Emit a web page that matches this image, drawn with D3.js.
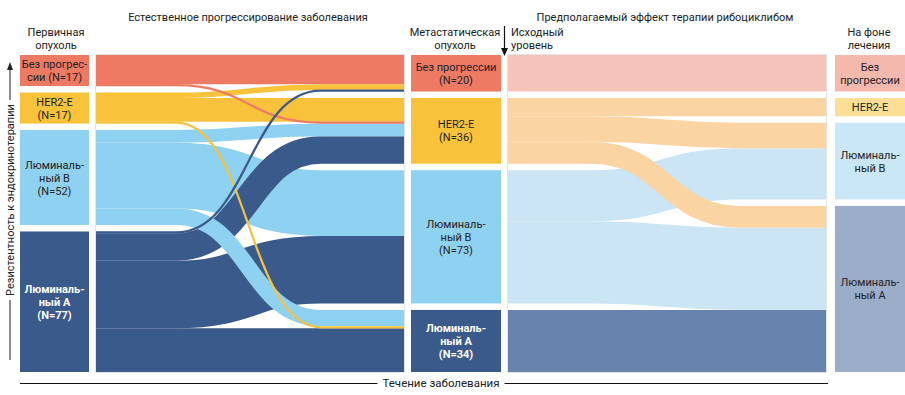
<!DOCTYPE html>
<html>
<head>
<meta charset="utf-8">
<script src="https://cdn.jsdelivr.net/npm/d3@7"></script>
<style>
  body { margin: 0; background: #fff; }
  text { font-family: Roboto, "Noto Sans", sans-serif; fill: #222; }
</style>
</head>
<body>
<script>
// подтипы опухоли
var subtypes = ["Без прогрессии", "HER2-E", "Люминальный В", "Люминальный А"];
var primaryN = [17, 17, 52, 77];
var metastaticN = [20, 36, 73, 34];
var treatedN = [20, 10, 42, 91];

// естественное прогрессирование: [из, в, N]
var naturalFlows = [
  [0, 0, 16], [0, 1, 1],
  [1, 0, 3], [1, 1, 13], [1, 3, 1],
  [2, 1, 7], [2, 2, 36], [2, 3, 9],
  [3, 0, 1], [3, 1, 15], [3, 2, 37], [3, 3, 24]
];
// порядок прихода потоков в целевой узел (индексы naturalFlows)
var naturalArrival = [0, 2, 8, 3, 1, 5, 9, 6, 10, 7, 4, 11];

// эффект рибоциклиба: [из, в, N]
var therapyFlows = [
  [0, 0, 20],
  [1, 1, 10], [1, 2, 14], [1, 3, 12],
  [2, 2, 28], [2, 3, 45],
  [3, 3, 34]
];
var therapyArrival = [0, 1, 2, 4, 3, 5, 6];

var primaryLabels = [["Без прогрес-", "сии (N=17)"], ["HER2-E", "(N=17)"], ["Люминаль-", "ный В", "(N=52)"], ["Люминаль-", "ный А", "(N=77)"]];
var metastaticLabels = [["Без прогрессии", "(N=20)"], ["HER2-E", "(N=36)"], ["Люминаль-", "ный В", "(N=73)"], ["Люминаль-", "ный А", "(N=34)"]];
var treatedLabels = [["Без", "прогрессии"], ["HER2-E"], ["Люминаль-", "ный В"], ["Люминаль-", "ный А"]];

var colors = ["#ee7a63", "#f8c23b", "#8fd1f1", "#3a5a8c"];
var fadedColors = ["#f6c3bb", "#fbd4a3", "#cbe5f5", "#6783ae"];
var treatedColors = ["#f5b8ad", "#fcdf94", "#c9e7f7", "#9badc8"];

var width = 905, height = 395;
var yTop = 55, yBottom = 372, gap = 6.5;

var svg = d3.select("body").append("svg")
    .attr("width", width)
    .attr("height", height);

var h = d3.scaleLinear()
    .domain([0, d3.sum(primaryN)])
    .range([0, (yBottom - yTop) - 3 * gap]);

function stack(ns) {
  var y = yTop;
  return ns.map(function(n) {
    var o = {y0: y, y1: y + h(n)};
    y = o.y1 + gap;
    return o;
  });
}

var primaryNodes = stack(primaryN),
    metastaticNodes = stack(metastaticN),
    treatedNodes = stack(treatedN);

function ribbon(x0, x1, ys, yt) {
  var cs = x0 + 0.26 * (x1 - x0), ce = x0 + 0.73 * (x1 - x0), cm = (cs + ce) / 2;
  var p = d3.path();
  p.moveTo(x0, ys);
  p.lineTo(cs, ys);
  p.bezierCurveTo(cm, ys, cm, yt, ce, yt);
  p.lineTo(x1, yt);
  return p.toString();
}

function drawFlows(flows, arrival, srcNodes, tgtNodes, x0, x1, palette) {
  var srcOff = srcNodes.map(function(d) { return d.y0; });
  var tgtOff = tgtNodes.map(function(d) { return d.y0; });
  var links = flows.map(function(f, i) {
    var w = h(f[2]);
    var l = {i: i, s: f[0], t: f[1], v: f[2], w: w, ys: srcOff[f[0]] + w / 2};
    srcOff[f[0]] += w;
    return l;
  });
  arrival.forEach(function(i) {
    var l = links[i];
    l.yt = tgtOff[l.t] + l.w / 2;
    tgtOff[l.t] += l.w;
  });

  svg.append("rect")
      .attr("x", x0 - 0.5).attr("y", yTop - 0.5)
      .attr("width", x1 - x0 + 1).attr("height", yBottom - yTop + 1)
      .attr("fill", "#fff").attr("stroke", "#e4e4e4");

  var sorted = links.slice().sort(function(a, b) { return b.v - a.v || a.i - b.i; });
  svg.append("g").selectAll("path")
      .data(sorted)
    .enter().append("path")
      .attr("d", function(d) { return ribbon(x0, x1, d.ys, d.yt); })
      .attr("fill", "none")
      .attr("stroke", function(d) { return palette[d.s]; })
      .attr("stroke-width", function(d) { return Math.max(d.w, 2.2); });
}

function drawNodes(nodes, x0, x1, fills, labels, whiteLast) {
  var g = svg.append("g");
  g.selectAll("rect")
      .data(nodes)
    .enter().append("rect")
      .attr("x", x0).attr("y", function(d) { return d.y0; })
      .attr("width", x1 - x0)
      .attr("height", function(d) { return d.y1 - d.y0; })
      .attr("fill", function(d, i) { return fills[i]; });

  nodes.forEach(function(d, i) {
    var lines = labels[i], cy = (d.y0 + d.y1) / 2;
    var t = g.append("text")
        .attr("text-anchor", "middle")
        .attr("font-size", 11);
    if (whiteLast && i === 3) t.style("fill", "#fff").attr("font-weight", 700);
    lines.forEach(function(s, j) {
      t.append("tspan")
          .attr("x", (x0 + x1) / 2)
          .attr("y", cy - (lines.length - 1) * 6.5 + j * 13 + 4)
          .text(s);
    });
  });
}

drawFlows(naturalFlows, naturalArrival, primaryNodes, metastaticNodes, 96, 404, colors);
drawFlows(therapyFlows, therapyArrival, metastaticNodes, treatedNodes, 508, 826, fadedColors);

drawNodes(primaryNodes, 20, 89, colors, primaryLabels, true);
drawNodes(metastaticNodes, 411, 501, colors, metastaticLabels, true);
drawNodes(treatedNodes, 835, 905, treatedColors, treatedLabels, false);

// заголовки
function label(x, y, lines, anchor) {
  var t = svg.append("text")
      .attr("text-anchor", anchor || "middle")
      .attr("font-size", 11);
  lines.forEach(function(s, j) {
    t.append("tspan").attr("x", x).attr("y", y + j * 12.5).text(s);
  });
  return t;
}
label(248, 21, ["Естественное прогрессирование заболевания"]);
label(665, 21, ["Предполагаемый эффект терапии рибоциклибом"]);
label(56, 36, ["Первичная", "опухоль"]);
label(455, 36, ["Метастатическая", "опухоль"]);
label(511, 36, ["Исходный", "уровень"], "start");
label(869, 36, ["На фоне", "лечения"]);

// стрелка к исходному уровню
svg.append("line")
    .attr("x1", 504.5).attr("x2", 504.5).attr("y1", 26).attr("y2", 50)
    .attr("stroke", "#111").attr("stroke-width", 1.2);
svg.append("path")
    .attr("d", "M501,48L508,48L504.5,56Z")
    .attr("fill", "#111");

// ось резистентности
var axisText = svg.append("text")
    .attr("transform", "translate(14,200) rotate(-90)")
    .attr("text-anchor", "middle")
    .attr("font-size", 11)
    .text("Резистентность к эндокринотерапии");
var half = axisText.node().getComputedTextLength() / 2;
svg.append("line")
    .attr("x1", 10).attr("x2", 10).attr("y1", 68).attr("y2", 200 - half - 4)
    .attr("stroke", "#444").attr("stroke-width", 1.2);
svg.append("line")
    .attr("x1", 10).attr("x2", 10).attr("y1", 200 + half + 4).attr("y2", 360)
    .attr("stroke", "#444").attr("stroke-width", 1.2);
svg.append("path")
    .attr("d", "M7,70L13,70L10,62Z")
    .attr("fill", "#222");

// ось времени
var timeText = svg.append("text")
    .attr("x", 441).attr("y", 387)
    .attr("text-anchor", "middle")
    .attr("font-size", 11.5)
    .text("Течение заболевания");
var tw = timeText.node().getComputedTextLength() / 2;
svg.append("line")
    .attr("x1", 20).attr("x2", 441 - tw - 5).attr("y1", 383.5).attr("y2", 383.5)
    .attr("stroke", "#111").attr("stroke-width", 1);
svg.append("line")
    .attr("x1", 441 + tw + 5).attr("x2", 828).attr("y1", 383.5).attr("y2", 383.5)
    .attr("stroke", "#111").attr("stroke-width", 1);
</script>
</body>
</html>
